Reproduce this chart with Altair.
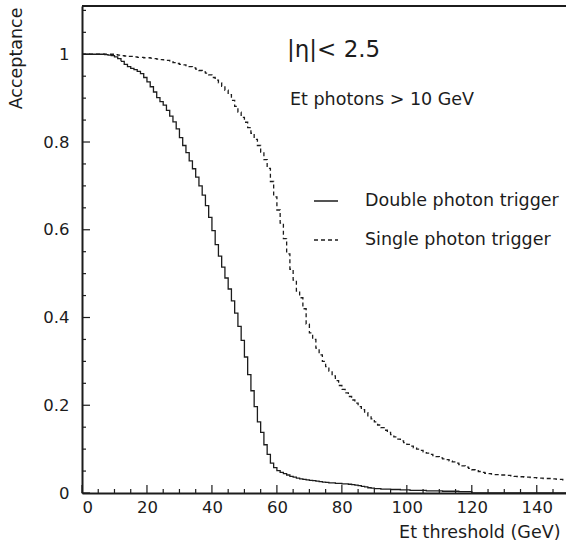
import altair as alt
import pandas as pd

# Lower edges of the 1 GeV threshold bins
et_threshold = list(range(0, 150))

# Acceptance vs. Et threshold, double photon trigger
double_trigger = [
    1.0, 1.0, 1.0, 1.0, 1.0, 1.0, 1.0, 0.999, 0.998, 0.997,
    0.994, 0.99, 0.984, 0.977, 0.972, 0.968, 0.965, 0.961, 0.956, 0.947,
    0.937, 0.926, 0.914, 0.901, 0.892, 0.884, 0.872, 0.859, 0.846, 0.83,
    0.81, 0.792, 0.776, 0.757, 0.739, 0.72, 0.7, 0.679, 0.655, 0.628,
    0.598, 0.566, 0.54, 0.515, 0.49, 0.465, 0.438, 0.41, 0.38, 0.348,
    0.31, 0.27, 0.233, 0.197, 0.162, 0.138, 0.11, 0.088, 0.068, 0.058,
    0.051, 0.047, 0.044, 0.041, 0.038, 0.036, 0.034, 0.032, 0.031, 0.03,
    0.029, 0.028, 0.027, 0.026, 0.025, 0.024, 0.023, 0.023, 0.022, 0.022,
    0.021, 0.021, 0.02, 0.019, 0.018, 0.017, 0.015, 0.014, 0.012, 0.011,
    0.01, 0.01, 0.009, 0.009, 0.009, 0.008, 0.008, 0.008, 0.007, 0.007,
    0.007, 0.006, 0.006, 0.006, 0.006, 0.006, 0.005, 0.005, 0.005, 0.005,
    0.005, 0.004, 0.004, 0.004, 0.004, 0.004, 0.003, 0.003, 0.003, 0.003,
    0.0, 0.0, 0.0, 0.0, 0.0, 0.0, 0.0, 0.0, 0.0, 0.0,
    0.0, 0.0, 0.0, 0.0, 0.0, 0.0, 0.0, 0.0, 0.0, 0.0,
    0.0, 0.0, 0.0, 0.0, 0.0, 0.0, 0.0, 0.0, 0.0, 0.0,
]

# Acceptance vs. Et threshold, single photon trigger
single_trigger = [
    1.0, 1.0, 1.0, 1.0, 1.0, 1.0, 1.0, 1.0, 1.0, 1.0,
    0.999, 0.998, 0.997, 0.996, 0.995, 0.995, 0.994, 0.993, 0.993, 0.992,
    0.992, 0.991, 0.99, 0.989, 0.988, 0.987, 0.986, 0.983, 0.981, 0.979,
    0.977, 0.976, 0.974, 0.972, 0.969, 0.966, 0.963, 0.96, 0.957, 0.953,
    0.947, 0.941, 0.935, 0.927, 0.918, 0.908, 0.895, 0.881, 0.868, 0.856,
    0.845, 0.833, 0.82, 0.806, 0.792, 0.777, 0.76, 0.74, 0.71, 0.675,
    0.645, 0.615, 0.58, 0.545, 0.51, 0.485, 0.46, 0.445, 0.42, 0.385,
    0.365, 0.35, 0.33, 0.315, 0.3, 0.288, 0.278, 0.267, 0.256, 0.245,
    0.236, 0.228, 0.22, 0.212, 0.205, 0.197, 0.19, 0.183, 0.176, 0.169,
    0.162, 0.155, 0.149, 0.143, 0.138, 0.133, 0.128, 0.123, 0.119, 0.115,
    0.111, 0.107, 0.103, 0.1, 0.097, 0.094, 0.091, 0.088, 0.085, 0.083,
    0.08, 0.078, 0.076, 0.073, 0.071, 0.068, 0.065, 0.062, 0.059, 0.056,
    0.053, 0.051, 0.049, 0.047, 0.045, 0.044, 0.043, 0.042, 0.042, 0.041,
    0.041, 0.04, 0.039, 0.038, 0.037, 0.037, 0.036, 0.036, 0.035, 0.035,
    0.034, 0.034, 0.033, 0.033, 0.033, 0.032, 0.031, 0.031, 0.03, 0.03,
]

series_names = ["Double photon trigger", "Single photon trigger"]
annotations = ["|\u03b7|< 2.5", "Et photons > 10 GeV"]

x_major = [0, 20, 40, 60, 80, 100, 120, 140]
x_minor = [v for v in range(5, 150, 5) if v % 20 != 0]
y_major = [0.0, 0.2, 0.4, 0.6, 0.8, 1.0]
y_minor = [0.05, 0.1, 0.15, 0.25, 0.3, 0.35, 0.45, 0.5, 0.55,
           0.65, 0.7, 0.75, 0.85, 0.9, 0.95, 1.05, 1.1]

W, H = 484, 487
INK = "#1c1c1c"
FONT = "DejaVu Sans"

# Step histograms: close the last bin at its upper edge
rows = []
for name, vals in zip(series_names, [double_trigger, single_trigger]):
    for x, v in zip(et_threshold, vals):
        rows.append({"et": x, "acc": v, "series": name})
    rows.append({"et": et_threshold[-1] + 1, "acc": vals[-1], "series": name})
curves_df = pd.DataFrame(rows)

x_scale = alt.Scale(domain=[0, 149], nice=False, zero=False)
y_scale = alt.Scale(domain=[0, 1.11], nice=False, zero=False)

x_axis = alt.Axis(
    values=x_major, ticks=False, grid=False, domainWidth=2, domainColor=INK,
    labelFont=FONT, labelFontSize=16.5, labelColor=INK, labelPadding=6,
    title="Et threshold (GeV)", titleFont=FONT, titleFontSize=17.5,
    titleFontWeight="normal", titleColor=INK, titleAnchor="end",
    titleAlign="right", titleX=478, titleY=39, titleBaseline="middle",
)
y_axis = alt.Axis(
    values=y_major, ticks=False, grid=False, domainWidth=2, domainColor=INK,
    labelFont=FONT, labelFontSize=16.5, labelColor=INK, labelPadding=13,
    labelBaseline="middle",
    labelExpr="datum.value == 0 ? '0' : datum.value == 1 ? '1' : format(datum.value, '.1f')",
    title="Acceptance", titleFont=FONT, titleFontSize=17.5,
    titleFontWeight="normal", titleColor=INK, titleAngle=270,
    titleAlign="right", titleBaseline="middle", titleX=-66, titleY=1,
)

curves = alt.Chart(curves_df).mark_line(
    interpolate="step-after", strokeWidth=1.3, color=INK, clip=True
).encode(
    x=alt.X("et:Q", scale=x_scale, axis=x_axis),
    y=alt.Y("acc:Q", scale=y_scale, axis=y_axis),
    strokeDash=alt.StrokeDash(
        "series:N",
        scale=alt.Scale(domain=series_names, range=[[1, 0], [4, 3]]),
        legend=alt.Legend(
            title=None, orient="none", legendX=231, legendY=182,
            symbolType="stroke", symbolSize=576, symbolStrokeWidth=1.3,
            symbolStrokeColor=INK, labelFont=FONT, labelFontSize=17.5,
            labelColor=INK, labelOffset=26, labelLimit=400, rowPadding=17,
            padding=0,
        ),
    ),
    detail="series:N",
)

def tick_layer(values, channel, length):
    df = pd.DataFrame({"v": values})
    base = alt.Chart(df).mark_rule(color=INK, strokeWidth=1.2)
    if channel == "y":
        return base.encode(
            y=alt.Y("v:Q", scale=y_scale, axis=y_axis),
            x=alt.value(0), x2=alt.value(length),
        )
    return base.encode(
        x=alt.X("v:Q", scale=x_scale, axis=x_axis),
        y=alt.value(H), y2=alt.value(H - length),
    )

ticks = [
    tick_layer(y_major, "y", 8),
    tick_layer(y_minor, "y", 4),
    tick_layer(x_major, "x", 8),
    tick_layer(x_minor, "x", 4),
]

frame_top = alt.Chart(pd.DataFrame({"k": [0]})).mark_rule(
    color=INK, strokeWidth=2
).encode(x=alt.value(0), x2=alt.value(W), y=alt.value(0))

ann_df = pd.DataFrame({"label": annotations})
eta_text = alt.Chart(ann_df.iloc[[0]]).mark_text(
    align="left", baseline="middle", font=FONT, fontSize=23, color=INK
).encode(x=alt.value(205), y=alt.value(44), text="label:N")
et_text = alt.Chart(ann_df.iloc[[1]]).mark_text(
    align="left", baseline="middle", font=FONT, fontSize=17.5, color=INK
).encode(x=alt.value(208), y=alt.value(94), text="label:N")

chart = alt.layer(
    curves, *ticks, frame_top, eta_text, et_text
).properties(
    width=W, height=H,
    autosize=alt.AutoSizeParams(type="none"),
    padding={"left": 82, "top": 6, "right": 0, "bottom": 54},
    background="white",
).configure_view(strokeWidth=0)

chart.save("out.html", embed_options={"renderer": "svg", "actions": False})
